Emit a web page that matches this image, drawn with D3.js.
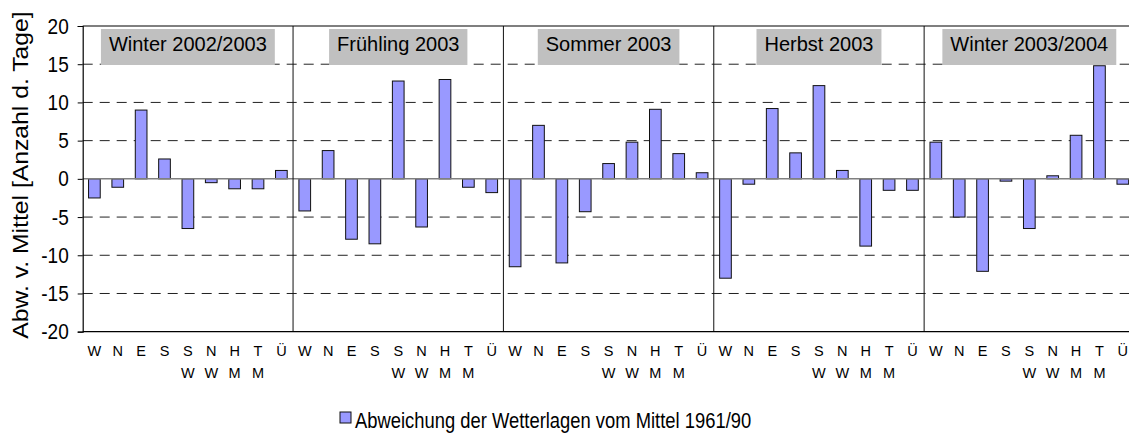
<!DOCTYPE html>
<html>
<head>
<meta charset="utf-8">
<script src="https://cdn.jsdelivr.net/npm/d3@7"></script>
<style>
  html, body { margin: 0; padding: 0; background: #fff; }
  svg { display: block; }
  text { font-family: "Liberation Sans", Arial, sans-serif; fill: #000; }
</style>
</head>
<body>
<svg id="chart" width="1129" height="439"></svg>
<script>
// ---- data ----
const seasons = ["Winter 2002/2003", "Frühling 2003", "Sommer 2003", "Herbst 2003", "Winter 2003/2004"];
const types = ["W", "N", "E", "S", "SW", "NW", "HM", "TM", "Ü"];
const typeLabelLines = [["W"], ["N"], ["E"], ["S"], ["S", "W"], ["N", "W"], ["H", "M"], ["T", "M"], ["Ü"]];
const winter0203 = [-2.5, -1.1, 9.0, 2.6, -6.5, -0.5, -1.3, -1.3, 1.1];
const spring03   = [-4.2, 3.7, -7.9, -8.5, 12.8, -6.3, 13.0, -1.1, -1.8];
const summer03   = [-11.5, 7.0, -11.0, -4.3, 2.0, 4.8, 9.1, 3.3, 0.8];
const autumn03   = [-13.0, -0.7, 9.2, 3.4, 12.2, 1.1, -8.8, -1.5, -1.5];
const winter0304 = [4.8, -5.0, -12.1, -0.3, -6.5, 0.4, 5.7, 14.8, -0.7];
const seriesValues = [winter0203, spring03, summer03, autumn03, winter0304];
const yTicks = [-20, -15, -10, -5, 0, 5, 10, 15, 20];
const yTitle = "Abw. v. Mittel [Anzahl d. Tage]";
const legendLabel = "Abweichung der Wetterlagen vom Mittel 1961/90";

// ---- build flat table ----
const rows = [];
seasons.forEach((s, si) => {
  types.forEach((t, ti) => {
    rows.push({ key: s + "|" + t, season: s, si, type: t, ti, value: seriesValues[si][ti] });
  });
});

// ---- layout ----
const svg = d3.select("#chart");
const pLeft = 82.7, pRight = 1134.5, pTop = 26, pBottom = 331.7;
const barColor = "#9999FF";

const x = d3.scaleBand().domain(rows.map(d => d.key)).range([pLeft, pRight])
  .paddingInner(0.5).paddingOuter(0.25);
const y = d3.scaleLinear().domain([-20, 20]).range([pBottom, pTop]);

svg.append("rect").attr("width", 1129).attr("height", 439).attr("fill", "#fff");

// gridlines (dashed)
svg.append("g").selectAll("line")
  .data(yTicks.filter(v => v !== 0 && v !== 20 && v !== -20))
  .join("line")
  .attr("x1", pLeft).attr("x2", pRight)
  .attr("y1", d => y(d)).attr("y2", d => y(d))
  .attr("stroke", "#222").attr("stroke-width", 1)
  .attr("stroke-dasharray", "10,7");

// panel title boxes
const panelStart = si => x(seasons[si] + "|" + types[0]) - x.bandwidth() * 0.5;
const panelEnd = si => x(seasons[si] + "|" + types[types.length - 1]) + x.bandwidth() * 1.5;
const titles = svg.append("g");
seasons.forEach((s, si) => {
  const cx = (panelStart(si) + panelEnd(si)) / 2;
  const g = titles.append("g");
  const rect = g.append("rect").attr("fill", "#C0C0C0");
  const t = g.append("text").attr("x", cx).attr("y", 51)
    .attr("text-anchor", "middle").attr("font-size", 20).text(s);
  const w = t.node().getComputedTextLength() + 16;
  rect.attr("x", cx - w / 2).attr("y", 29).attr("width", w).attr("height", 36);
});

// bars
svg.append("g").selectAll("rect")
  .data(rows)
  .join("rect")
  .attr("x", d => x(d.key))
  .attr("width", x.bandwidth())
  .attr("y", d => y(Math.max(0, d.value)))
  .attr("height", d => Math.abs(y(d.value) - y(0)))
  .attr("fill", barColor)
  .attr("stroke", "#111").attr("stroke-width", 1);

// zero line
svg.append("line")
  .attr("x1", pLeft).attr("x2", pRight).attr("y1", y(0)).attr("y2", y(0))
  .attr("stroke", "#808080").attr("stroke-width", 1.5);

// panel dividers
svg.append("g").selectAll("line")
  .data(d3.range(1, seasons.length))
  .join("line")
  .attr("x1", si => panelStart(si)).attr("x2", si => panelStart(si))
  .attr("y1", pTop).attr("y2", pBottom)
  .attr("stroke", "#111").attr("stroke-width", 1);

// frame: top and bottom lines
svg.append("line").attr("x1", pLeft).attr("x2", pRight).attr("y1", pTop).attr("y2", pTop)
  .attr("stroke", "#000").attr("stroke-width", 1.2);
svg.append("line").attr("x1", pLeft).attr("x2", pRight).attr("y1", pBottom).attr("y2", pBottom)
  .attr("stroke", "#000").attr("stroke-width", 1.2);

// y axis
const yAxis = svg.append("g").attr("transform", `translate(${pLeft},0)`)
  .call(d3.axisLeft(y).tickValues(yTicks).tickSize(5).tickPadding(9).tickFormat(d3.format("d")));
yAxis.select(".domain").attr("stroke", "#000").attr("stroke-width", 1.2);
yAxis.selectAll(".tick line").attr("stroke", "#000");
yAxis.selectAll(".tick text")
  .attr("font-size", 19).attr("font-family", "'Liberation Sans', Arial, sans-serif")
  .attr("fill", "#000").attr("transform", "scale(1,1.15)")
  .text(d => d < 0 ? "-" + Math.abs(d) : d);

// y title
svg.append("text")
  .attr("transform", "translate(27.5,175) rotate(-90) scale(1.15,1)")
  .attr("text-anchor", "middle").attr("font-size", 21.5)
  .text(yTitle);

// x labels
const xl = svg.append("g");
rows.forEach(d => {
  const cx = x(d.key) + x.bandwidth() / 2;
  typeLabelLines[d.ti].forEach((line, li) => {
    xl.append("text").attr("x", cx).attr("y", 355.5 + li * 22.7)
      .attr("text-anchor", "middle").attr("font-size", 14.5).text(line);
  });
});

// legend
svg.append("rect").attr("x", 340).attr("y", 412).attr("width", 11).attr("height", 11)
  .attr("fill", barColor).attr("stroke", "#111").attr("stroke-width", 1);
svg.append("text").attr("transform", "translate(355,428) scale(1,1.15)")
  .attr("font-size", 18.4).text(legendLabel);
</script>
</body>
</html>
